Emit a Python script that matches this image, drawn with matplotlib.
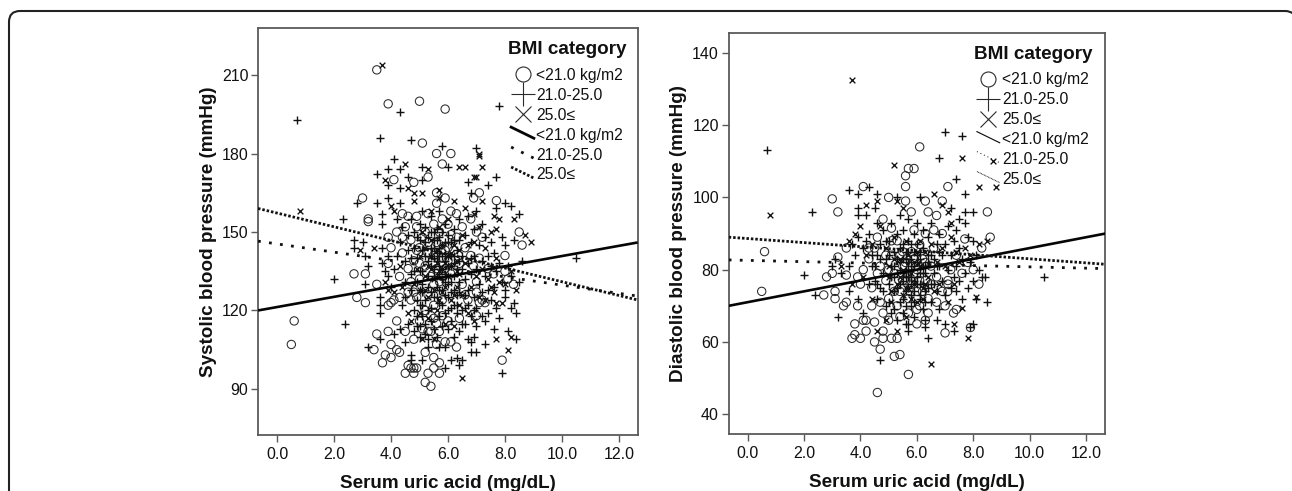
import matplotlib
matplotlib.use('Agg')
import matplotlib.pyplot as plt
from matplotlib.lines import Line2D
from matplotlib.legend_handler import HandlerLine2D
from matplotlib.patches import FancyBboxPatch
from matplotlib.transforms import IdentityTransform

plt.rcParams['font.family'] = ['Liberation Sans', 'DejaVu Sans']

# (uric acid, systolic)
sbp_low = [(3.5,212),(3.9,199),(5.0,200),(5.9,197),(5.1,184),(5.6,180),(6.1,180),(5.8,176),(5.3,171),(4.8,169),
           (4.1,170),(3.0,163),(3.2,155),(3.2,154),(4.6,156),(5.6,161),(5.6,165),(5.9,163),(6.9,163),(7.1,165),
           (7.7,162),(8.5,150),(8.6,145),(0.6,116),(0.5,107),(2.7,134),(3.1,134),(2.8,125),(3.1,123),(3.5,130),
           (3.5,111),(3.9,112),(3.4,105),(3.8,103),(4.0,107),(4.2,105),(4.3,104),(4.0,102),(3.7,100),(4.6,99),
           (4.7,98),(4.8,98),(4.9,98),(4.5,96),(4.8,96),(5.3,96),(5.2,92.5),(5.4,91),(5.5,102),(5.5,98),
           (5.7,100),(5.7,96),(5.2,104),(5.6,107),(4.8,109),(4.5,112),(7.9,101),(7.0,118),(7.1,123),(7.0,127),
           (8.3,130),(8.0,141),(4.2,116),(4.3,125),(4.1,124),(4.0,123),(3.9,122),(4.6,127),(4.7,124),(4.8,127),
           (4.9,125),(5.0,116),(5.1,113),(5.2,120),(5.3,112),(5.4,118),(5.5,122),(5.6,115),(5.7,112),(5.8,118),
           (5.9,108),(6.1,108),(6.3,106),(6.4,117),(6.6,126),(6.7,124),(7.2,124),(7.3,123),(5.5,130),(5.0,132),
           (4.3,133),(4.6,136),(3.9,138),(4.0,144),(3.9,148),(4.2,150),(4.4,148),(4.7,147),(5.0,144),(5.3,142),
           (5.6,146),(5.8,140),(6.0,144),(6.3,148),(6.6,144),(6.8,141),(7.1,140),(7.4,136),(7.6,134),(8.0,135),
           (8.1,132),(7.0,131),(6.5,130),(6.1,134),(5.7,131),(5.2,137),(4.8,139),(4.4,142),(4.9,152),(5.2,150),
           (5.5,153),(5.8,155),(6.1,158),(6.5,152),(6.8,155),(7.0,150),(7.2,148),(6.3,157),(5.3,157),(4.9,156),
           (4.4,157),(6.0,153),(6.4,138),(6.9,137),(5.9,136),(5.0,138),(5.3,146),(5.4,133),(5.5,141),(5.6,136),
           (5.7,150),(5.8,133),(5.9,143),(6.0,139),(6.1,149),(6.2,143),(5.1,148),(4.9,143),(4.7,131),(5.3,126),
           (5.5,117),(5.8,124),(6.0,116),(4.5,152),(5.4,112)]
sbp_mid = [(0.7,193),(7.8,198),(4.3,196),(3.6,186),(4.7,185),(5.8,183),(7.0,182),(4.1,178),(3.9,174),(4.3,174),
           (5.1,175),(6.0,175),(3.5,172),(4.6,171),(5.1,170),(3.9,168),(4.3,167),(6.7,169),(7.7,171),(3.5,161),
           (3.9,163),(4.3,161),(2.8,161),(2.3,155),(3.7,157),(3.7,153),(6.8,165),(7.4,168),(8.0,161),(8.2,160),
           (8.5,157),(7.7,159),(7.9,148),(7.5,146),(8.3,147),(8.0,145),(2.7,144),(3.7,144),(2.4,115),(2.0,132),
           (3.1,130),(3.6,125),(3.6,122),(3.6,119),(3.2,106),(3.6,109),(4.1,111),(4.3,113),(4.5,108),(4.7,103),
           (4.7,101),(5.1,101),(5.3,109),(5.7,106),(5.9,106),(5.9,98),(6.1,101),(6.3,102),(6.5,101),(6.4,99),
           (6.8,104),(7.0,104),(7.3,107),(7.9,96),(8.4,119),(8.4,109),(7.6,113),(7.8,117),(6.9,110),(6.7,109),
           (6.8,108),(6.4,112),(7.0,114),(7.2,118),(7.3,116),(6.6,121),(7.4,128),(8.0,125),(8.3,123),(8.2,121),
           (8.5,131),(7.7,135),(8.6,139),(10.5,140),(8.1,112),(3.1,141),(3.2,137),(3.0,146),(2.7,147),
           (3.7,138),(3.8,135),(3.9,141),(3.9,133),(4.0,129),(4.1,136),(4.2,141),(4.3,146),(4.4,152),(4.2,155),
           (4.5,139),(4.5,131),(4.6,143),(4.6,149),(4.7,134),(4.7,155),(4.8,144),(4.8,150),(4.8,120),(4.9,114),
           (4.9,131),(4.9,140),(5.0,147),(5.0,153),(5.0,122),(5.0,110),(5.1,118),(5.1,127),(5.1,135),(5.1,143),
           (5.1,158),(5.2,146),(5.2,152),(5.2,124),(5.2,115),(5.3,133),(5.3,139),(5.3,148),(5.3,106),(5.4,127),
           (5.4,144),(5.4,150),(5.4,156),(5.4,121),(5.5,113),(5.5,136),(5.5,140),(5.5,147),(5.5,150),(5.6,110),
           (5.6,125),(5.6,133),(5.6,142),(5.6,151),(5.7,118),(5.7,128),(5.7,137),(5.7,144),(5.7,148),(5.7,158),
           (5.8,114),(5.8,122),(5.8,132),(5.8,141),(5.8,150),(5.9,126),(5.9,134),(5.9,139),(5.9,146),(5.9,153),
           (6.0,113),(6.0,120),(6.0,130),(6.0,137),(6.0,149),(6.1,116),(6.1,127),(6.1,141),(6.1,146),(6.2,110),
           (6.2,122),(6.2,133),(6.2,138),(6.2,151),(6.3,119),(6.3,126),(6.3,143),(6.4,131),(6.4,147),(6.4,155),
           (6.5,120),(6.5,136),(6.5,141),(6.6,115),(6.6,132),(6.6,149),(6.7,128),(6.7,138),(6.7,156),(6.8,118),
           (6.8,134),(6.8,146),(6.9,125),(6.9,141),(6.9,151),(7.0,121),(7.0,136),(7.0,158),(7.1,130),(7.1,145),
           (7.2,127),(7.2,139),(7.2,153),(7.3,133),(7.3,148),(7.4,119),(7.4,141),(7.5,124),(7.5,137),(7.6,129),
           (7.6,142),(7.7,121),(7.8,138),(7.9,131),(8.0,128),(8.1,137),(8.2,133),
           (4.9,118),(5.0,114),(5.1,122),(5.1,130),(5.2,111),(5.2,141),(5.3,120),(5.3,129),(5.4,116),(5.4,137),
           (5.4,141),(5.5,125),(5.5,133),(5.5,144),(5.6,129),(5.6,139),(5.6,147),(5.7,123),(5.7,134),(5.7,141),
           (5.8,128),(5.8,136),(5.8,145),(5.9,119),(5.9,131),(5.9,142),(6.0,125),(6.0,133),(6.0,141),(6.0,146),
           (6.1,121),(6.1,131),(6.1,137),(6.2,128),(6.2,141),(6.2,147),(6.3,122),(6.3,136),(6.4,127),(6.4,139),
           (4.4,122),(4.5,125),(4.6,115),(4.7,128),(4.7,140),(4.8,112),(4.8,135),(4.9,124),(4.9,148),(5.0,128),
           (5.0,135),(6.5,115),(6.6,126),(6.7,122),(6.8,140),(6.9,120)]
sbp_high = [(3.7,214),(0.8,158),(6.5,94),(7.7,109),(8.1,105),(8.2,110),(4.5,176),(5.3,174),(6.4,175),(6.6,175),
            (7.2,175),(3.8,170),(4.6,167),(4.8,165),(4.8,162),(5.1,165),(5.7,166),(6.9,171),(7.0,171),(7.2,162),
            (7.1,179),(7.1,180),(4.0,160),(4.1,158),(7.7,151),(7.8,155),(8.3,155),(7.6,156),(8.7,149),(8.9,146),
            (3.4,144),(2.9,143),(6.2,162),(6.6,159),(6.9,157),(5.7,163),(5.4,158),(3.9,128),(3.8,131),(4.1,127),
            (4.3,137),(4.4,129),(4.6,119),(4.7,116),(4.9,136),(5.0,141),(5.0,128),(5.1,150),(5.1,109),(5.2,133),
            (5.2,144),(5.3,117),(5.3,125),(5.4,136),(5.4,147),(5.5,128),(5.5,109),(5.6,120),(5.6,138),(5.7,152),
            (5.7,124),(5.8,145),(5.8,136),(5.9,115),(5.9,129),(6.0,141),(6.0,155),(6.1,124),(6.1,137),(6.2,114),
            (6.2,145),(6.3,129),(6.3,135),(6.4,122),(6.4,143),(6.5,126),(6.5,149),(6.6,138),(6.7,119),(6.7,145),
            (6.8,129),(6.9,116),(6.9,146),(7.0,133),(7.1,125),(7.1,152),(7.2,136),(7.3,124),(7.3,144),(7.4,132),
            (7.5,129),(7.5,150),(7.6,127),(7.7,123),(7.7,140),(7.8,131),(7.9,123),(8.0,130),(8.2,135),(8.4,128),
            (5.2,128),(5.4,141),(5.5,132),(5.6,143),(5.7,135),(5.8,127),(5.9,138),(6.0,133),(6.1,142),(6.2,126),
            (5.3,137),(5.0,119),(4.8,130),(6.3,139),(6.4,134)]

# (uric acid, diastolic)
dbp_low = [(6.1,114),(5.7,108),(5.9,108),(5.6,106),(5.6,103),(7.1,103),(4.1,103),(3.0,99.6),(3.2,96),(5.0,100),
           (5.6,99),(6.3,99),(6.9,99),(8.5,96),(5.8,96),(6.4,96),(6.7,95),(4.8,94),(6.9,90),(8.6,89),
           (8.3,86),(7.7,88.5),(4.6,89),(4.3,86),(3.5,86),(3.2,83.5),(6.3,90),(5.9,91),(5.1,91.5),(0.6,85),
           (0.5,74),(2.7,73),(4.6,46),(5.7,51),(2.8,78),(3.0,79),(3.1,74),(3.1,72),(3.4,70),(3.5,71),
           (3.9,70),(3.8,65),(4.1,66),(4.2,66),(4.5,65.5),(4.2,63),(3.8,62),(3.7,61),(4.0,61),(4.5,60),
           (4.8,61),(4.8,63),(4.7,58),(5.2,56),(5.4,56.5),(5.1,61),(5.3,61),(5.0,66),(4.8,68),(6.0,65),
           (6.4,68),(6.7,71),(7.0,70),(7.3,68),(7.4,69),(7.0,62.5),(6.3,66),(7.9,64),(8.2,76),(3.9,78),
           (3.5,78.5),(4.0,76),(7.6,79),(7.1,76),(7.1,74),(7.1,77),(4.1,80),(4.3,83),(4.5,86),(4.7,81),
           (4.9,77),(5.0,72),(5.1,84),(5.2,79),(5.3,70),(5.4,74),(5.5,81),(5.6,77),(5.7,72),(5.8,85),
           (5.9,79),(6.0,74),(6.1,70),(6.2,83),(6.3,77),(6.4,72),(6.5,81),(6.6,86),(6.7,78),(6.9,74),
           (7.2,80),(7.4,84),(7.8,82),(8.0,80),(4.4,75),(4.7,71),(5.3,88),(5.5,85),(6.1,87),(6.6,91),
           (5.0,80),(5.2,74),(5.4,84),(5.5,77),(5.6,82),(5.7,79),(5.8,76),(5.9,83),(6.0,80),(6.1,77),
           (6.2,74),(5.1,88),(4.9,84),(4.6,79),(4.4,70),(5.4,67),(5.7,68),(6.0,69),(6.3,82),(6.5,76)]
dbp_mid = [(0.7,113),(2.0,78.5),(2.4,73),(3.2,67),(4.7,55),(10.5,78),(2.3,96),(7.0,118),(7.6,117),(6.8,111),
           (7.4,105),(7.7,101),(3.6,102),(3.9,101),(4.3,103),(4.6,101),(5.3,100),(6.1,100),(7.2,97),(7.7,96),
           (8.0,96),(7.7,93),(7.5,94),(3.9,95),(3.9,97),(4.2,95),(4.5,97),(4.6,93),(7.4,91),(7.8,89),
           (8.0,88),(8.1,84),(8.4,78),(8.5,71),(8.1,72),(7.6,72),(7.4,74),(7.3,63),(7.0,65),(6.7,66),
           (6.3,64),(6.3,66),(6.4,61),(5.7,65),(5.7,63),(7.9,64),(8.0,65),(3.6,74),(3.9,72),(4.1,68),
           (3.0,81),(3.1,83),(3.3,79),(3.6,81),(3.8,84),(3.7,87),(3.9,89),(4.1,86),(4.2,88),(4.3,90),
           (4.4,81),(4.5,77),(4.6,72),(4.6,84),(4.7,87),(4.7,75),(4.8,91),(4.8,79),(4.9,83),(4.9,70),
           (5.0,88),(5.0,76),(5.1,81),(5.1,68),(5.1,93),(5.2,85),(5.2,74),(5.2,78),(5.3,66),(5.3,83),
           (5.3,90),(5.4,80),(5.4,71),(5.4,86),(5.4,95),(5.5,77),(5.5,68),(5.5,83),(5.5,91),(5.6,74),
           (5.6,80),(5.6,85),(5.6,65),(5.7,78),(5.7,82),(5.7,88),(5.7,94),(5.8,70),(5.8,76),(5.8,81),
           (5.8,83),(5.9,74),(5.9,85),(5.9,90),(5.9,67),(6.0,78),(6.0,82),(6.0,87),(6.0,93),(6.1,72),
           (6.1,76),(6.1,83),(6.2,69),(6.2,79),(6.2,86),(6.2,91),(6.3,74),(6.3,81),(6.4,84),(6.4,89),
           (6.5,76),(6.5,71),(6.5,93),(6.6,79),(6.6,83),(6.7,74),(6.7,87),(6.8,69),(6.8,81),(6.8,90),
           (6.9,77),(6.9,84),(7.0,73),(7.0,87),(7.1,80),(7.1,92),(7.2,75),(7.2,84),(7.3,78),(7.3,88),
           (7.4,81),(7.5,77),(7.5,86),(7.6,83),(7.7,79),(7.8,75),(7.9,82),(8.0,77),(8.2,80),(8.3,78),
           (4.8,74),(4.9,88),(5.0,71),(5.0,84),(5.1,78),(5.2,81),(5.2,69),(5.3,75),(5.3,79),(5.4,76),
           (5.4,82),(5.5,72),(5.5,79),(5.5,87),(5.6,70),(5.6,78),(5.6,83),(5.7,75),(5.7,80),(5.7,85),
           (5.8,73),(5.8,78),(5.8,87),(5.9,71),(5.9,77),(5.9,81),(6.0,76),(6.0,84),(6.1,73),(6.1,79),
           (6.1,85),(6.2,76),(6.2,81),(6.3,71),(6.3,79),(6.4,75),(6.4,82),(6.5,84),(4.3,76),(4.4,84),
           (4.5,81),(4.6,76),(4.7,83),(6.6,76),(6.7,81),(6.8,85)]
dbp_high = [(3.7,132.5),(0.8,95),(6.5,54),(7.6,111),(5.2,109),(8.2,103),(8.8,103),(8.7,110),(7.8,61),(7.3,65),
            (7.6,69.5),(8.1,72.5),(4.6,63),(4.2,98),(4.6,99),(5.3,99),(5.5,97),(6.6,101),(6.9,98),(7.1,96),
            (7.2,93),(3.8,90),(4.0,92),(3.6,88),(4.2,84),(4.4,87),(4.7,92),(4.9,86),(5.0,81),(5.1,74),
            (5.2,89),(5.3,76),(5.4,83),(5.5,73),(5.6,88),(5.7,75),(5.8,79),(5.9,82),(6.0,71),(6.1,88),
            (6.2,75),(6.3,85),(6.4,78),(6.5,87),(6.6,74),(6.7,82),(6.8,76),(6.9,86),(7.0,81),(7.1,71),
            (7.2,89),(7.3,76),(7.4,85),(7.5,82),(7.7,86),(7.9,84),(8.2,87),(8.5,88),(4.9,66),(5.3,63),
            (5.6,67),(6.2,72),(3.3,81),(3.7,76),(4.1,78),(4.4,72),(5.0,78),(5.2,83),(5.4,78),(5.5,80),
            (5.6,75),(5.7,84),(5.8,72),(5.9,76),(6.0,85),(6.1,81),(6.3,76),(5.1,71)]

# fit lines, value at each end of the x range
xlim_left = (-0.67, 12.66)
xlim_right = (-0.67, 12.68)
sbp_fit_low = (120, 146)
sbp_fit_mid = (146.5, 125.5)
sbp_fit_high = (159, 124)
dbp_fit_low = (70, 90)
dbp_fit_mid = (82.7, 80.3)
dbp_fit_high = (89, 81.5)

x_ticks = [0, 2, 4, 6, 8, 10, 12]
sbp_ticks = [90, 120, 150, 180, 210]
dbp_ticks = [40, 60, 80, 100, 120, 140]
labels = ['<21.0 kg/m2', '21.0-25.0', '25.0≤']

W, H = 1292, 491
GREY = '#5a5a5a'
INK = '#2a2a2a'
SPARSE = (0, (1.0, 3.0))
FINE = (0, (0.9, 0.7))


class SlopedLine(HandlerLine2D):
    # SPSS draws the legend line samples on a slant
    def create_artists(self, legend, orig, xd, yd, w, h, fontsize, trans):
        mid = h / 2 - yd
        line = Line2D([-xd, w - xd], [mid + 5, mid - 3])
        self.update_prop(line, orig, legend)
        line.set_transform(trans)
        return [line]


def draw_panel(box, xlim, ylim, yticks, ylabel, low, mid, high, fits, lw, legend_anchor):
    ax = fig.add_axes([box[0] / W, (H - box[3]) / H, (box[1] - box[0]) / W, (box[3] - box[2]) / H])
    for data, marker, size, edge in ((low, 'o', 36, 0.75), (mid, '+', 27, 1.0), (high, 'x', 17, 0.95)):
        xs = [p[0] for p in data]
        ys = [p[1] for p in data]
        if marker == 'o':
            ax.scatter(xs, ys, s=size, marker=marker, facecolors='none', edgecolors=INK, linewidths=edge, zorder=2)
        else:
            ax.scatter(xs, ys, s=size, marker=marker, color='#111111', linewidths=edge, zorder=2)
    ax.plot(xlim, fits[0], color='#050505', lw=lw[0], solid_capstyle='butt', zorder=3)
    ax.plot(xlim, fits[1], color='#111111', lw=lw[1], ls=SPARSE, zorder=3)
    ax.plot(xlim, fits[2], color='#111111', lw=lw[1], ls=FINE, zorder=3)

    ax.set_xlim(xlim)
    ax.set_ylim(ylim)
    ax.set_xticks(x_ticks, [f'{t:.1f}' for t in x_ticks])
    ax.set_yticks(yticks)
    ax.tick_params(length=5, width=1.0, color=GREY, labelsize=11.5, labelcolor='#111111', pad=2)
    ax.tick_params(axis='x', pad=4)
    for s in ax.spines.values():
        s.set_color(GREY)
        s.set_linewidth(1.3)
    ax.set_xlabel('Serum uric acid (mg/dL)', fontsize=13.55, fontweight='bold', color='#111111', labelpad=9.5)
    ax.set_ylabel(ylabel, fontsize=13.55, fontweight='bold', color='#111111', labelpad=3.5)

    handles = [
        Line2D([], [], ls='none', marker='o', ms=10.8, mfc='none', mec=INK, mew=0.8),
        Line2D([], [], ls='none', marker='+', ms=17, mec=INK, mew=0.8),
        Line2D([], [], ls='none', marker='x', ms=12, mec=INK, mew=0.8),
        Line2D([], [], color='#050505', lw=lw[2]),
        Line2D([], [], color='#111111', lw=lw[3], ls=SPARSE),
        Line2D([], [], color='#111111', lw=lw[3], ls=FINE),
    ]
    handler = {handles[i]: SlopedLine() for i in (3, 4, 5)}
    leg = ax.legend(handles, labels + labels, title='BMI category', handler_map=handler,
                    loc='upper right', bbox_to_anchor=legend_anchor, frameon=False, fontsize=11.3,
                    title_fontproperties={'weight': 'bold', 'size': 13.6}, handlelength=1.45,
                    handletextpad=0.15, labelspacing=0.315, borderaxespad=0, borderpad=0, alignment='center')
    # more air under the legend title than between the rows
    leg._legend_box.sep = 7
    for t in leg.get_texts():
        t.set_color('#111111')
    leg.get_title().set_color('#111111')
    leg.set_zorder(4)
    return ax


fig = plt.figure(figsize=(W / 100, H / 100), dpi=100)

# card outline, runs off the right and bottom of the picture
fig.add_artist(FancyBboxPatch((9, -30), 1287, H - 11 + 30, boxstyle='round,pad=0,rounding_size=11',
                              fc='white', ec='#222222', lw=1.5, transform=IdentityTransform(), zorder=-1))

draw_panel((258, 637.7, 28, 434.7), xlim_left, (72.5, 228), sbp_ticks, 'Systolic blood pressure (mmHg)',
           sbp_low, sbp_mid, sbp_high, (sbp_fit_low, sbp_fit_mid, sbp_fit_high), (1.9, 2.0, 2.0, 2.0), (0.970, 0.968))
draw_panel((728.7, 1105.3, 32.7, 433.7), xlim_right, (34.6, 145.6), dbp_ticks, 'Diastolic blood pressure (mmHg)',
           dbp_low, dbp_mid, dbp_high, (dbp_fit_low, dbp_fit_mid, dbp_fit_high), (1.9, 2.0, 0.8, 0.7), (0.965, 0.968))

fig.savefig('out.png', dpi=100)
